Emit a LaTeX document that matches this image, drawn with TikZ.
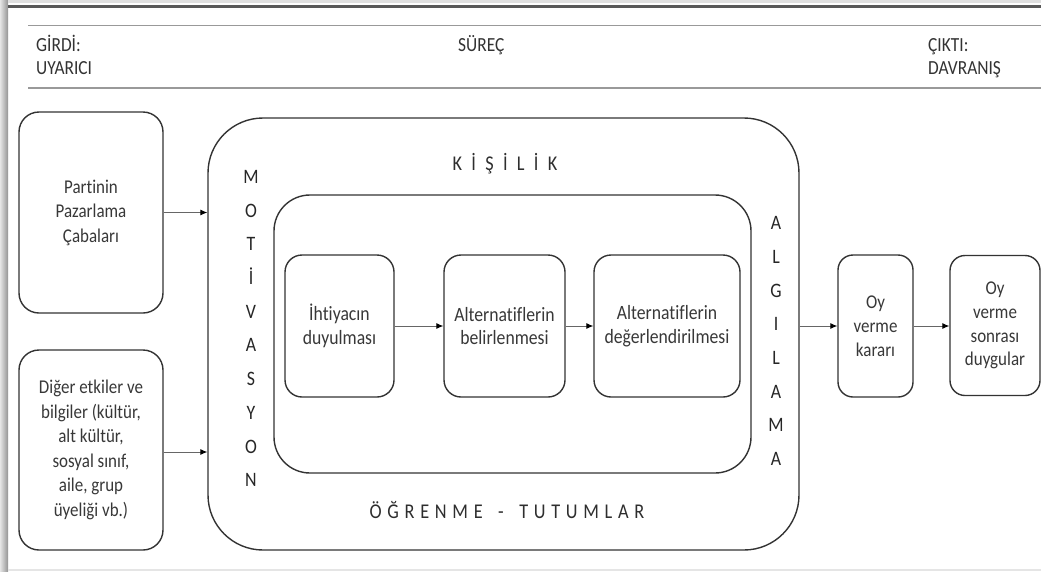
\documentclass[tikz,border=0pt]{standalone}
\usepackage{fontspec}
\setmainfont{Carlito}[FakeStretch=0.87, Ligatures=NoCommon]
\usetikzlibrary{arrows.meta}
\begin{document}
\begin{tikzpicture}[x=1pt,y=-1pt,
  box/.style={draw=black!80, line width=1.4pt, align=center, inner sep=0pt, text=black!78},
  bigtext/.style={font=\fontsize{19.5}{24.5}\selectfont},
  midtext/.style={font=\fontsize{20.3}{23.5}\selectfont},
  smalltext/.style={font=\fontsize{19.5}{23.8}\selectfont},
  head/.style={inner sep=0pt, anchor=base west, text=black!80, font=\fontsize{20}{23}\selectfont},
  vlet/.style={inner sep=0pt, align=center, text=black!85, font=\fontsize{20.5}{33.7}\selectfont},
  spaced/.style={inner sep=0pt, anchor=base, text=black!82, font=\fontsize{21}{25}\selectfont},
  arr/.style={draw=black!60, line width=0.9pt, -{Latex[length=7pt,width=6pt,color=black]}}
]
\useasboundingbox (0,0) rectangle (1041,571);
\fill[white] (0,0) rectangle (1041,571);
% frame
\shade[left color=black!10, right color=black!42] (0,0) rectangle (8,571);
\fill[black!12] (8,0) rectangle (1041,2.5);
\draw[black!65, line width=2.5pt] (8,6.5) -- (1041,6.5);
\draw[black!10, line width=1.5pt] (8,570) -- (1041,570);
\draw[black!40, line width=1.6pt] (28,25.5) -- (1041,25.5);
\draw[black!40, line width=1.6pt] (28,88) -- (1041,88);
% header
\node[head] (h1) at (36,51.3) {GİRDİ:};
\node[head] (h2) at (36,74.7) {UYARICI};
\node[head] (h3) at (458,51.3) {SÜREÇ};
\node[head] (h4) at (928,51.3) {ÇIKTI:};
\node[head] (h5) at (928,74.7) {DAVRANIŞ};
% left boxes
\node[box, bigtext, rounded corners=20pt, minimum width=144pt, minimum height=201pt] (b1) at (91,212.5) {Partinin\\Pazarlama\\Çabaları};
\node[box, bigtext, rounded corners=20pt, minimum width=144pt, minimum height=200pt] (b2) at (91,450) {Diğer etkiler ve\\bilgiler (kültür,\\alt kültür,\\sosyal sınıf,\\aile, grup\\üyeliği vb.)};
% outer and inner
\node[box, rounded corners=55pt, minimum width=591pt, minimum height=432pt] (outer) at (503.5,334) {};
\node[box, rounded corners=36pt, minimum width=477pt, minimum height=278pt] (inner) at (512.5,334) {};
% labels
\node[spaced] (kis) at (505,170) {K\hspace{9.3pt}İ\hspace{9.3pt}Ş\hspace{9.3pt}İ\hspace{9.3pt}L\hspace{9.3pt}İ\hspace{9.3pt}K};
\node[spaced] (ogr) at (507,518.5) {Ö\hspace{5.7pt}Ğ\hspace{5.7pt}R\hspace{5.7pt}E\hspace{5.7pt}N\hspace{5.7pt}M\hspace{5.7pt}E\hspace{5.7pt} \hspace{5.7pt}-\hspace{5.7pt} \hspace{5.7pt}T\hspace{5.7pt}U\hspace{5.7pt}T\hspace{5.7pt}U\hspace{5.7pt}M\hspace{5.7pt}L\hspace{5.7pt}A\hspace{5.7pt}R};
\node[vlet] (mot) at (251,328.5) {M\\O\\T\\İ\\V\\A\\S\\Y\\O\\N};
\node[vlet] (alg) at (776,341) {A\\L\\G\\I\\L\\A\\M\\A};
% inner steps
\node[box, midtext, rounded corners=17pt, minimum width=109pt, minimum height=142pt] (s1) at (339.5,326) {İhtiyacın\\duyulması};
\node[box, midtext, rounded corners=17pt, minimum width=121pt, minimum height=142pt] (s2) at (504.5,326) {Alternatiflerin\\belirlenmesi};
\node[box, midtext, rounded corners=17pt, minimum width=146pt, minimum height=142pt] (s3) at (667,326) {Alternatiflerin\\değerlendirilmesi};
% right boxes
\node[box, smalltext, rounded corners=15pt, minimum width=75pt, minimum height=142pt] (r1) at (875.5,326) {Oy\\verme\\kararı};
\node[box, smalltext, rounded corners=15pt, minimum width=90pt, minimum height=140pt] (r2) at (995,325.5) {Oy\\verme\\sonrası\\duygular};
% arrows
\draw[arr] (b1.east) -- (b1.east -| outer.west);
\draw[arr] ([yshift=-2pt]b2.east) -- ([yshift=-2pt]b2.east -| outer.west);
\draw[arr] (s1) -- (s2);
\draw[arr] (s2) -- (s3);
\draw[arr] (r1.west -| outer.east) -- (r1.west);
\draw[arr] (r1.east) -- (r1.east -| r2.west);
\end{tikzpicture}
\end{document}
